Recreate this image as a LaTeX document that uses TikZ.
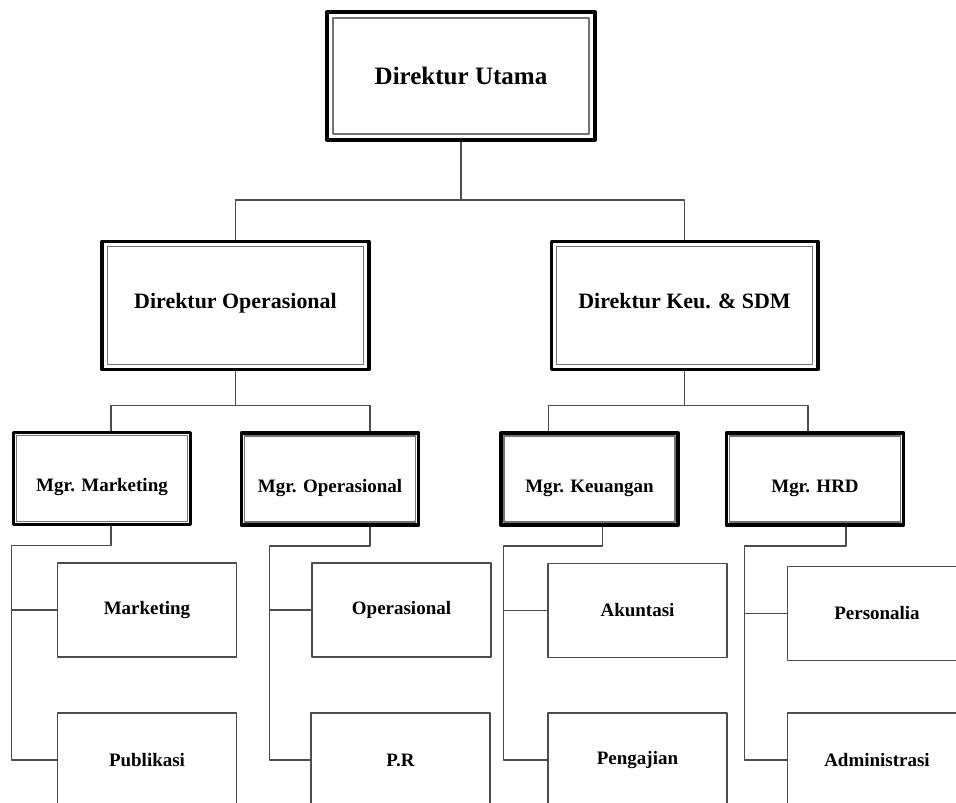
\documentclass[tikz,border=0pt]{standalone}
\usepackage{fontspec}
\setmainfont{Liberation Serif}
\begin{document}
\begin{tikzpicture}[x=0.025cm,y=-0.025cm,line join=round,
		garis/.style={draw=black!70,line width=1pt},
		dalam/.style={draw=black!55,line width=1.1pt},
		pimpinan/.style={draw=black,line width=2.8pt,inner sep=0pt},
		besar/.style={font=\bfseries\fontsize{17.8}{20}\selectfont},
		sedang/.style={font=\bfseries\fontsize{15.6}{18}\selectfont},
		kecil/.style={font=\bfseries\fontsize{13.5}{16}\selectfont},
		direktur/.style={pimpinan,sedang,minimum width=6.65cm,minimum height=3.2cm,text depth=6pt},
		manajer/.style={pimpinan,kecil,minimum width=4.425cm,minimum height=2.3cm,text height=22pt,text depth=3pt},
		staf/.style={draw=black!70,line width=1.1pt,kecil,minimum width=4.475cm,minimum height=2.35cm}]
			\useasboundingbox (0,0) rectangle (956,803);
			\clip (0,0) rectangle (956,803);
			\node[pimpinan,besar,minimum width=6.7cm,minimum height=3.2cm] (du) at (461,76) {Direktur Utama};
			\node[direktur] (dop) at (235.5,305.5) {Direktur Operasional};
			\node[direktur] (dkeu) at (684.5,305.5) {Direktur Keu. \& SDM};
			\node[manajer] (mmkt) at (102,478.5) {Mgr. Marketing};
			\node[manajer] (mop) at (330,479) {Mgr. Operasional};
			\node[manajer] (mkeu) at (589.5,479) {Mgr. Keuangan};
			\node[manajer] (mhrd) at (815,479) {Mgr. HRD};
			\node[staf] (mkt) at (147,610) {Marketing};
			\node[staf] (pub) at (147,760) {Publikasi};
			\node[staf] (ops) at (401.5,610) {Operasional};
			\node[staf] (pr) at (400.5,760) {P.R};
			\node[staf] (akt) at (637.5,610.5) {Akuntasi};
			\node[staf] (peng) at (637.5,760) {Pengajian};
			\node[staf] (pers) at (877,613.5) {Personalia};
			\node[staf] (adm) at (877,760) {Administrasi};
			\foreach \n/\d in {du/8,dop/7,dkeu/7,mmkt/5,mop/5,mkeu/5,mhrd/5}
			\draw[dalam] ([shift={(\d,\d)}]\n.north west) rectangle ([shift={(-\d,-\d)}]\n.south east);
			\draw[garis] (du.south) -- ++(0,58) -| (dop.north);
			\draw[garis] (du.south) -- ++(0,58) -| (dkeu.north);
			\draw[garis] (dop.south) -- ++(0,34) -| ([shift={(9,0)}]mmkt.north);
			\draw[garis] (dop.south) -- ++(0,34) -| ([shift={(40,0)}]mop.north);
			\draw[garis] (dkeu.south) -- ++(0,34) -| ([shift={(-41,0)}]mkeu.north);
			\draw[garis] (dkeu.south) -- ++(0,34) -| ([shift={(-7,0)}]mhrd.north);
			\foreach \m/\a/\b/\c/\d in {mmkt/9/mkt/pub/45,mop/40/ops/pr/41,mkeu/13/akt/peng/44,mhrd/31/pers/adm/42}
			{\draw[garis] ([shift={(\a,0)}]\m.south) -- ++(0,19) -| ([shift={(-\d,0)}]\c.west) -- (\c.west);
			\draw[garis] ([shift={(-\d,0)}]\b.west) -- (\b.west);}
		\end{tikzpicture}
\end{document}
